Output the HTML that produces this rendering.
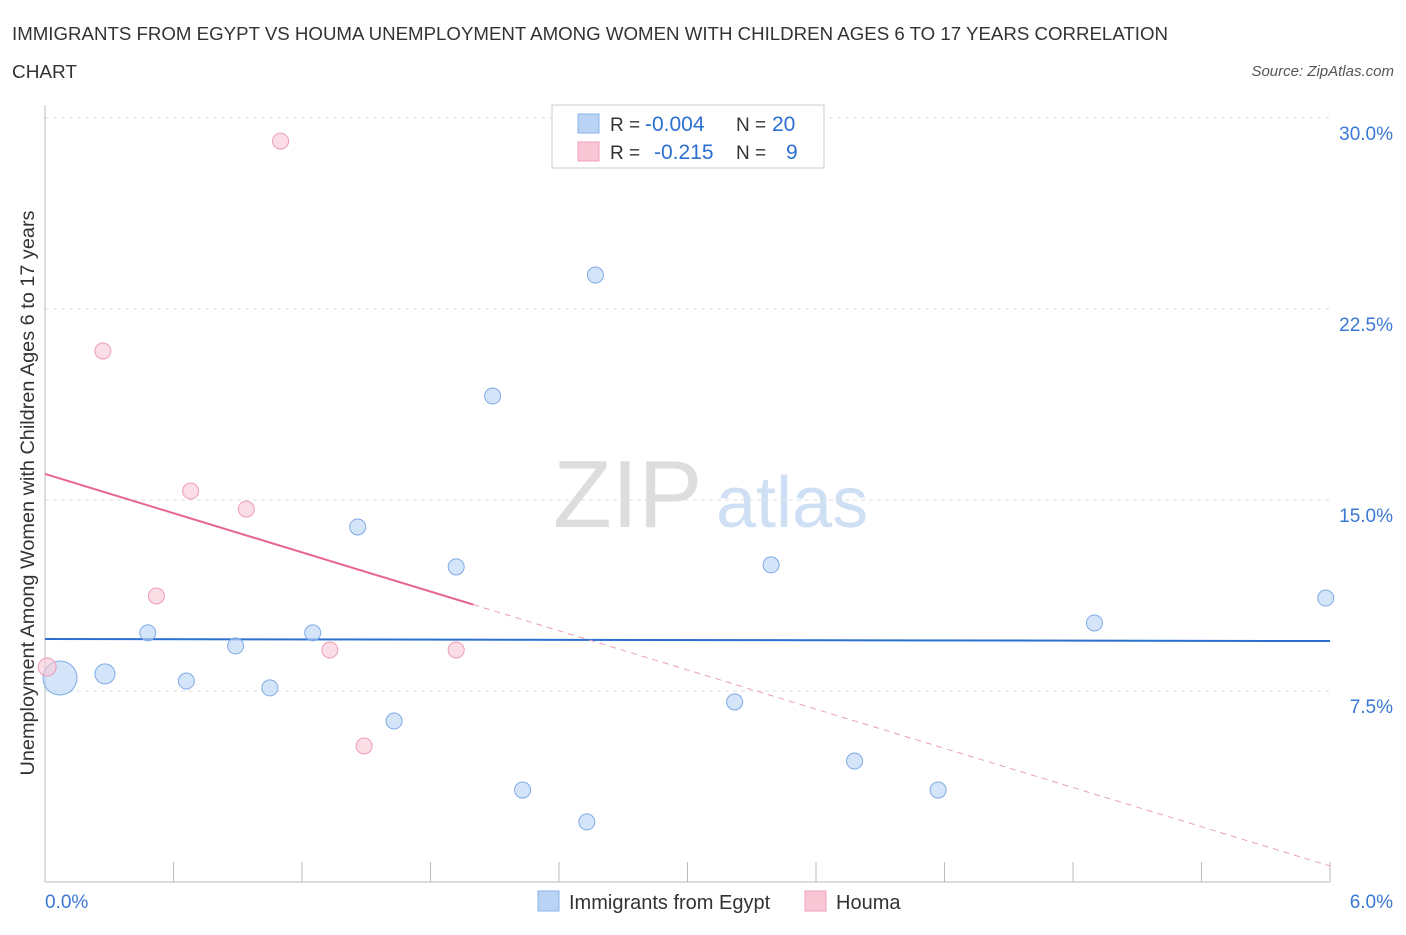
<!DOCTYPE html>
<html><head><meta charset="utf-8"><style>
body{margin:0;background:#fff;font-family:"Liberation Sans",sans-serif;}
svg text{font-family:"Liberation Sans",sans-serif;}
</style></head><body>
<svg id="chart" width="1406" height="930" viewBox="0 0 1406 930">
<text x="12" y="40" font-size="18" fill="#333" textLength="1156" lengthAdjust="spacingAndGlyphs">IMMIGRANTS FROM EGYPT VS HOUMA UNEMPLOYMENT AMONG WOMEN WITH CHILDREN AGES 6 TO 17 YEARS CORRELATION</text>
<text x="12" y="78" font-size="18" fill="#333" textLength="65" lengthAdjust="spacingAndGlyphs">CHART</text>
<text x="1394" y="76" font-size="15" fill="#555" font-style="italic" text-anchor="end">Source: ZipAtlas.com</text>
<text x="553" y="527" font-size="96" fill="#ddd" font-family="Liberation Serif">ZIP</text>
<text x="716" y="527" font-size="72" fill="#cfe0f4">atlas</text>
<text transform="translate(34,493) rotate(-90)" font-size="19" fill="#333" text-anchor="middle" textLength="565" lengthAdjust="spacingAndGlyphs">Unemployment Among Women with Children Ages 6 to 17 years</text>
<g id="grid"></g><g id="axes"></g><g id="trends"></g><g id="points"></g>
<g>
<rect x="552" y="105" width="272" height="63" fill="#fff" stroke="#ccc"/>
<rect x="578" y="114" width="21" height="19" fill="#b9d3f5" stroke="#8ab4e8"/>
<rect x="578" y="142" width="21" height="19" fill="#f9c6d6" stroke="#f0a0bb"/>
<text x="610" y="131" font-size="19" fill="#333">R = </text><text x="645" y="131" font-size="21" fill="#2b6fd0">-0.004</text>
<text x="736" y="131" font-size="19" fill="#333">N = </text><text x="772" y="131" font-size="21" fill="#2b6fd0">20</text>
<text x="610" y="159" font-size="19" fill="#333">R = </text><text x="654" y="159" font-size="21" fill="#2b6fd0">-0.215</text>
<text x="736" y="159" font-size="19" fill="#333">N = </text><text x="786" y="159" font-size="21" fill="#2b6fd0">9</text>
</g>
<g>
<rect x="538" y="891" width="21" height="20" fill="#b9d3f5" stroke="#8ab4e8"/>
<text x="569" y="909" font-size="20" fill="#333">Immigrants from Egypt</text>
<rect x="805" y="891" width="21" height="20" fill="#f9c6d6" stroke="#f0a0bb"/>
<text x="836" y="909" font-size="20" fill="#333">Houma</text>
</g>
</svg>
<script>
const blueX=[0.07,0.28,0.48,0.66,0.89,1.05,1.25,1.46,1.63,1.92,2.09,2.23,2.53,2.57,3.22,3.39,3.78,4.17,4.90,5.98];
const blueY=[8.01,8.17,9.78,7.89,9.27,7.62,9.78,13.94,6.32,12.37,19.08,3.61,2.36,23.83,7.07,12.45,4.75,3.61,10.17,11.15];
const blueR=[17,10,8,8,8,8,8,8,8,8,8,8,8,8,8,8,8,8,8,8];
const pinkX=[0.01,0.27,0.52,0.68,0.94,1.10,1.33,1.49,1.92];
const pinkY=[8.44,20.85,11.23,15.35,14.64,29.09,9.11,5.34,9.11];
const pinkR=[9,8,8,8,8,8,8,8,8];
const yTicks=[7.5,15,22.5,30];
const blueTrend=[9.54,9.46];
const pinkTrend=[16.02,0.63];
const pinkSolidEnd=2.0;
const NS="http://www.w3.org/2000/svg";
const xs=v=>45+v*214.17, ys=v=>882-v*25.47;
function mk(t,a,p){const e=document.createElementNS(NS,t);for(const k in a)e.setAttribute(k,a[k]);document.getElementById(p).appendChild(e);return e;}
yTicks.forEach(t=>{
 const l=mk('line',{x1:45,x2:1330,y1:ys(t),y2:ys(t),stroke:'#ddd','stroke-dasharray':'4,4'},'grid');
 
 
 const tx=mk('text',{x:1393,y:ys(t)+22,'font-size':19,fill:'#3a78d4','text-anchor':'end'},'grid');
 tx.textContent=t.toFixed(1)+'%';
 
 
});
const ax=mk('line',{x1:45,x2:1330,y1:882,y2:882,stroke:'#bbb'},'axes');


const ay=mk('line',{x1:45,x2:45,y1:105,y2:882,stroke:'#bbb'},'axes');


for(let i=0;i<=10;i++){const tk=mk('line',{x1:xs(i*0.6),x2:xs(i*0.6),y1:862,y2:882,stroke:'#bbb'},'axes');
 
 }
[['0.0%',45,'start'],['6.0%',1393,'end']].forEach(([s,x,a])=>{const t=mk('text',{x:x,y:908,'font-size':19,fill:'#3a78d4','text-anchor':a},'axes');t.textContent=s;
 
 });
const bl=mk('line',{x1:xs(0),y1:ys(blueTrend[0]),x2:xs(6),y2:ys(blueTrend[1]),stroke:'#2b6fd0','stroke-width':2},'trends');


const pAt=x=>pinkTrend[0]+(pinkTrend[1]-pinkTrend[0])*x/6;
const ps=mk('line',{x1:xs(0),y1:ys(pAt(0)),x2:xs(pinkSolidEnd),y2:ys(pAt(pinkSolidEnd)),stroke:'#e8668f','stroke-width':2},'trends');


const pd=mk('line',{x1:xs(pinkSolidEnd),y1:ys(pAt(pinkSolidEnd)),x2:xs(6),y2:ys(pAt(6)),stroke:'#e8a0b8','stroke-width':1,'stroke-dasharray':'6,5'},'trends');


blueX.forEach((x,i)=>{const c=mk('circle',{cx:xs(x),cy:ys(blueY[i]),r:blueR[i],fill:'rgba(185,211,245,0.6)',stroke:'#7eaae6','stroke-width':1},'points');
 
 });
pinkX.forEach((x,i)=>{const c=mk('circle',{cx:xs(x),cy:ys(pinkY[i]),r:pinkR[i],fill:'rgba(249,198,214,0.6)',stroke:'#ee9cb7','stroke-width':1},'points');
 
 });
</script>
</body></html>
